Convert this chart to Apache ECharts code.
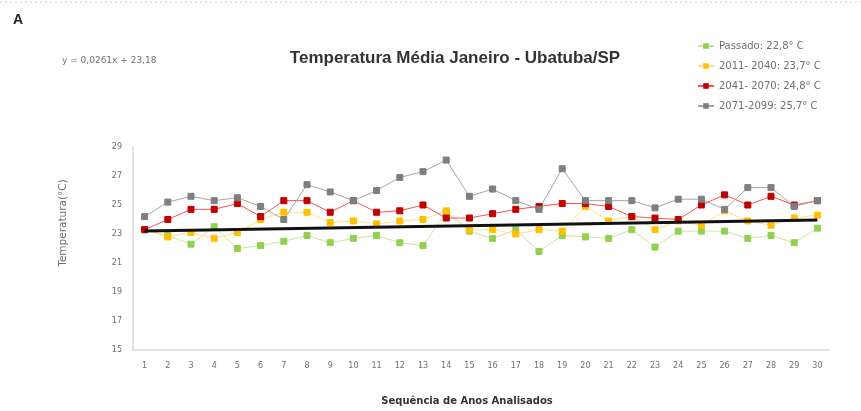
<!DOCTYPE html>
<html>
<head>
<meta charset="utf-8">
<script src="https://cdn.jsdelivr.net/npm/echarts@6/dist/echarts.min.js"></script>
<style>
  html, body { margin: 0; padding: 0; background: #fff; }
  #chart { width: 861px; height: 411px; }
</style>
</head>
<body>
<div id="chart"></div>
<script>
// Anos analisados (sequência 1..30)
var anos = ['1','2','3','4','5','6','7','8','9','10','11','12','13','14','15',
            '16','17','18','19','20','21','22','23','24','25','26','27','28','29','30'];

// Temperatura média de janeiro (°C) por período
var passado = [23.3, 22.9, 22.3, 23.5, 22.0, 22.2, 22.5, 22.9, 22.4, 22.7,
               22.9, 22.4, 22.2, 24.5, 23.2, 22.7, 23.3, 21.8, 22.9, 22.8,
               22.7, 23.3, 22.1, 23.2, 23.2, 23.2, 22.7, 22.9, 22.4, 23.4];
var p2011_2040 = [23.3, 22.8, 23.1, 22.7, 23.1, 24.0, 24.5, 24.5, 23.8, 23.9,
                  23.7, 23.9, 24.0, 24.6, 23.3, 23.3, 23.0, 23.3, 23.2, 24.9,
                  23.9, 24.2, 23.3, 23.9, 23.6, 24.6, 23.9, 23.6, 24.1, 24.3];
var p2041_2070 = [23.3, 24.0, 24.7, 24.7, 25.1, 24.2, 25.3, 25.3, 24.5, 25.3,
                  24.5, 24.6, 25.0, 24.1, 24.1, 24.4, 24.7, 24.9, 25.1, 25.1,
                  24.9, 24.2, 24.1, 24.0, 25.0, 25.7, 25.0, 25.6, 25.0, 25.3];
var p2071_2099 = [24.2, 25.2, 25.6, 25.3, 25.5, 24.9, 24.0, 26.4, 25.9, 25.3,
                  26.0, 26.9, 27.3, 28.1, 25.6, 26.1, 25.3, 24.7, 27.5, 25.3,
                  25.3, 25.3, 24.8, 25.4, 25.4, 24.7, 26.2, 26.2, 24.9, 25.3];

// Linha de tendência: y = a·x + b
var tendA = 0.0261, tendB = 23.18;
var tendencia = anos.map(function (a, i) {
  return (i === 0 || i === anos.length - 1) ? +(tendA * (i + 1) + tendB).toFixed(3) : null;
});

var legendas = ['Passado: 22,8° C', '2011- 2040: 23,7° C', '2041- 2070: 24,8° C', '2071-2099: 25,7° C'];
var eixoY = { min: 15, max: 29 };

var chart = echarts.init(document.getElementById('chart'), null, { renderer: 'canvas' });

function serie(nome, dados, corLinha, corMarca) {
  return {
    name: nome, type: 'line', data: dados,
    symbol: 'rect', symbolSize: 6,
    lineStyle: { color: corLinha, width: 1 },
    itemStyle: { color: corMarca, borderColor: corMarca },
    emphasis: { disabled: true },
    z: 3
  };
}

var fonte = 'DejaVu Sans';
var txt = '#6f6f6f';
chart.setOption({
  animation: false,
  backgroundColor: '#fff',
  title: [
    { text: 'A', left: 8, top: 8, textStyle: { fontFamily: 'Liberation Sans', fontSize: 14, fontWeight: 'bold', color: '#222' } },
    { text: 'Temperatura Média Janeiro - Ubatuba/SP', left: 450, top: 45, textAlign: 'center',
      textStyle: { fontFamily: 'Liberation Sans', fontSize: 17, fontWeight: 'bold', color: '#333' } },
    { text: 'y = ' + String(tendA).replace('.', ',') + 'x + ' + String(tendB).replace('.', ','), left: 57, top: 51,
      textStyle: { fontFamily: fonte, fontSize: 9, fontWeight: 'normal', color: txt } }
  ],
  graphic: [
    { type: 'line', shape: { x1: 0, y1: 2, x2: 861, y2: 2 }, silent: true,
      style: { stroke: '#cfcfcf', lineWidth: 1, lineDash: [2, 3] } },
    { type: 'text', x: 63, y: 223, rotation: Math.PI / 2, silent: true,
      style: { text: 'Temperatura(°C)', fontFamily: fonte, fontSize: 10.5, fill: txt, align: 'center', verticalAlign: 'middle' } },
    { type: 'text', x: 467, y: 401, silent: true,
      style: { text: 'Sequência de Anos Analisados', fontFamily: fonte, fontSize: 10, fontWeight: 'bold', fill: '#333', align: 'center', verticalAlign: 'middle' } }
  ],
  legend: {
    orient: 'vertical', left: 692, top: 36, itemGap: 10,
    itemWidth: 16, itemHeight: 7,
    textStyle: { fontFamily: fonte, fontSize: 10, color: txt },
    data: legendas
  },
  grid: { left: 133, right: 32, top: 147, bottom: 61 },
  xAxis: {
    type: 'category', data: anos, boundaryGap: true,
    axisLine: { lineStyle: { color: '#d9d9d9', width: 1.5 } },
    axisTick: { show: false },
    axisLabel: { fontFamily: fonte, fontSize: 8, color: txt, margin: 12, interval: 0 }
  },
  yAxis: {
    type: 'value', min: eixoY.min, max: eixoY.max, interval: 1,
    axisLine: { show: true, lineStyle: { color: '#d9d9d9', width: 1.5 } },
    axisTick: { show: false },
    splitLine: { show: false },
    axisLabel: { fontFamily: fonte, fontSize: 8, color: txt, margin: 11,
      formatter: function (v) { return (v % 2 === 1) ? String(v) : ''; } }
  },
  series: [
    serie(legendas[0], passado, '#c6e89a', '#92d050'),
    serie(legendas[1], p2011_2040, '#ffe08a', '#ffc000'),
    serie(legendas[2], p2041_2070, '#ff5050', '#c00000'),
    serie(legendas[3], p2071_2099, '#a6a6a6', '#7f7f7f'),
    {
      name: 'tendência', type: 'line', data: tendencia, connectNulls: true,
      symbol: 'none', lineStyle: { color: '#111', width: 3 }, z: 4, silent: true
    }
  ]
});
</script>
</body>
</html>
